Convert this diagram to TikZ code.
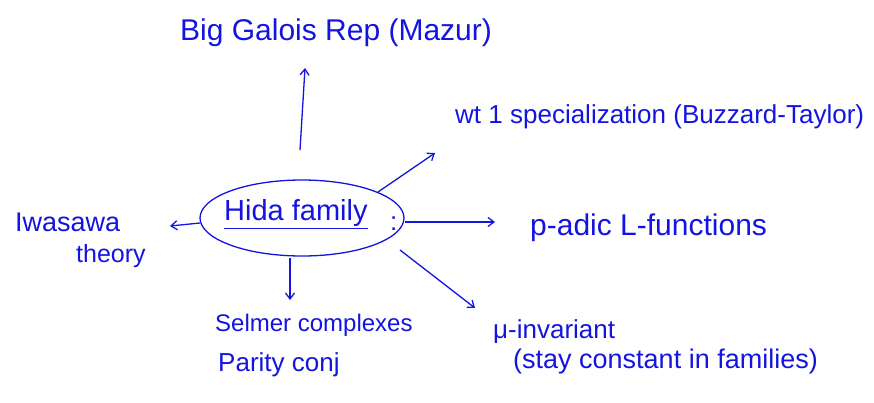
\documentclass[tikz,border=0pt]{standalone}
\usepackage{fontspec}
\setmainfont{Liberation Sans}
\usetikzlibrary{arrows.meta,shapes.geometric}
\definecolor{ink}{RGB}{20,20,225}
\newcommand{\fs}[1]{\fontsize{#1}{#1}\selectfont}
\begin{document}
\begin{tikzpicture}[x=1pt,y=-1pt,
  lbl/.style={text=ink,inner sep=0pt,anchor=west},
  arr/.style={draw=ink,line width=1.3pt,-{Straight Barb[length=6pt,width=9pt]}},
  hub/.style={draw=ink,line width=1.3pt,ellipse,minimum width=204pt,minimum height=76pt,inner sep=0pt}]
\useasboundingbox (0,0) rectangle (874,402);
\node[hub] (hida) at (302,218) {};
\node[lbl,font=\fs{29}] (hidat) at (224,214) {\underline{Hida family}};
\node[lbl,font=\fs{26}] (colon) at (390,224) {:};
\node[lbl,font=\fs{30}] (galois) at (180,33) {Big Galois Rep (Mazur)};
\node[lbl,font=\fs{26}] (wt) at (455,117) {wt 1 specialization (Buzzard-Taylor)};
\node[lbl,font=\fs{30}] (padic) at (530,228) {p-adic L-functions};
\node[lbl,font=\fs{27}] (iwa) at (15,222) {Iwasawa};
\node[lbl,font=\fs{25}] (theory) at (76,256) {theory};
\node[lbl,font=\fs{24}] (sel) at (215,325) {Selmer complexes};
\node[lbl,font=\fs{26}] (par) at (218,365) {Parity conj};
\node[lbl,font=\fs{26}] (mu) at (493,332) {μ-invariant};
\node[lbl,font=\fs{27}] (stay) at (513,362) {(stay constant in families)};
\coordinate (g0) at (300,150);
\coordinate (g1) at (305,68);
\draw[arr] (g0) -- (g1);
\coordinate (w0) at (378,192);
\coordinate (w1) at (435,153);
\draw[arr] (w0) -- (w1);
\coordinate (p0) at (405,222);
\coordinate (p1) at (495,222);
\draw[arr] (p0) -- (p1);
\coordinate (i0) at (200,223);
\coordinate (i1) at (170,226);
\draw[arr] (i0) -- (i1);
\coordinate (s0) at (290,258);
\coordinate (s1) at (290,300);
\draw[arr] (s0) -- (s1);
\coordinate (m0) at (400,250);
\coordinate (m1) at (475,308);
\draw[arr] (m0) -- (m1);
\end{tikzpicture}
\end{document}
